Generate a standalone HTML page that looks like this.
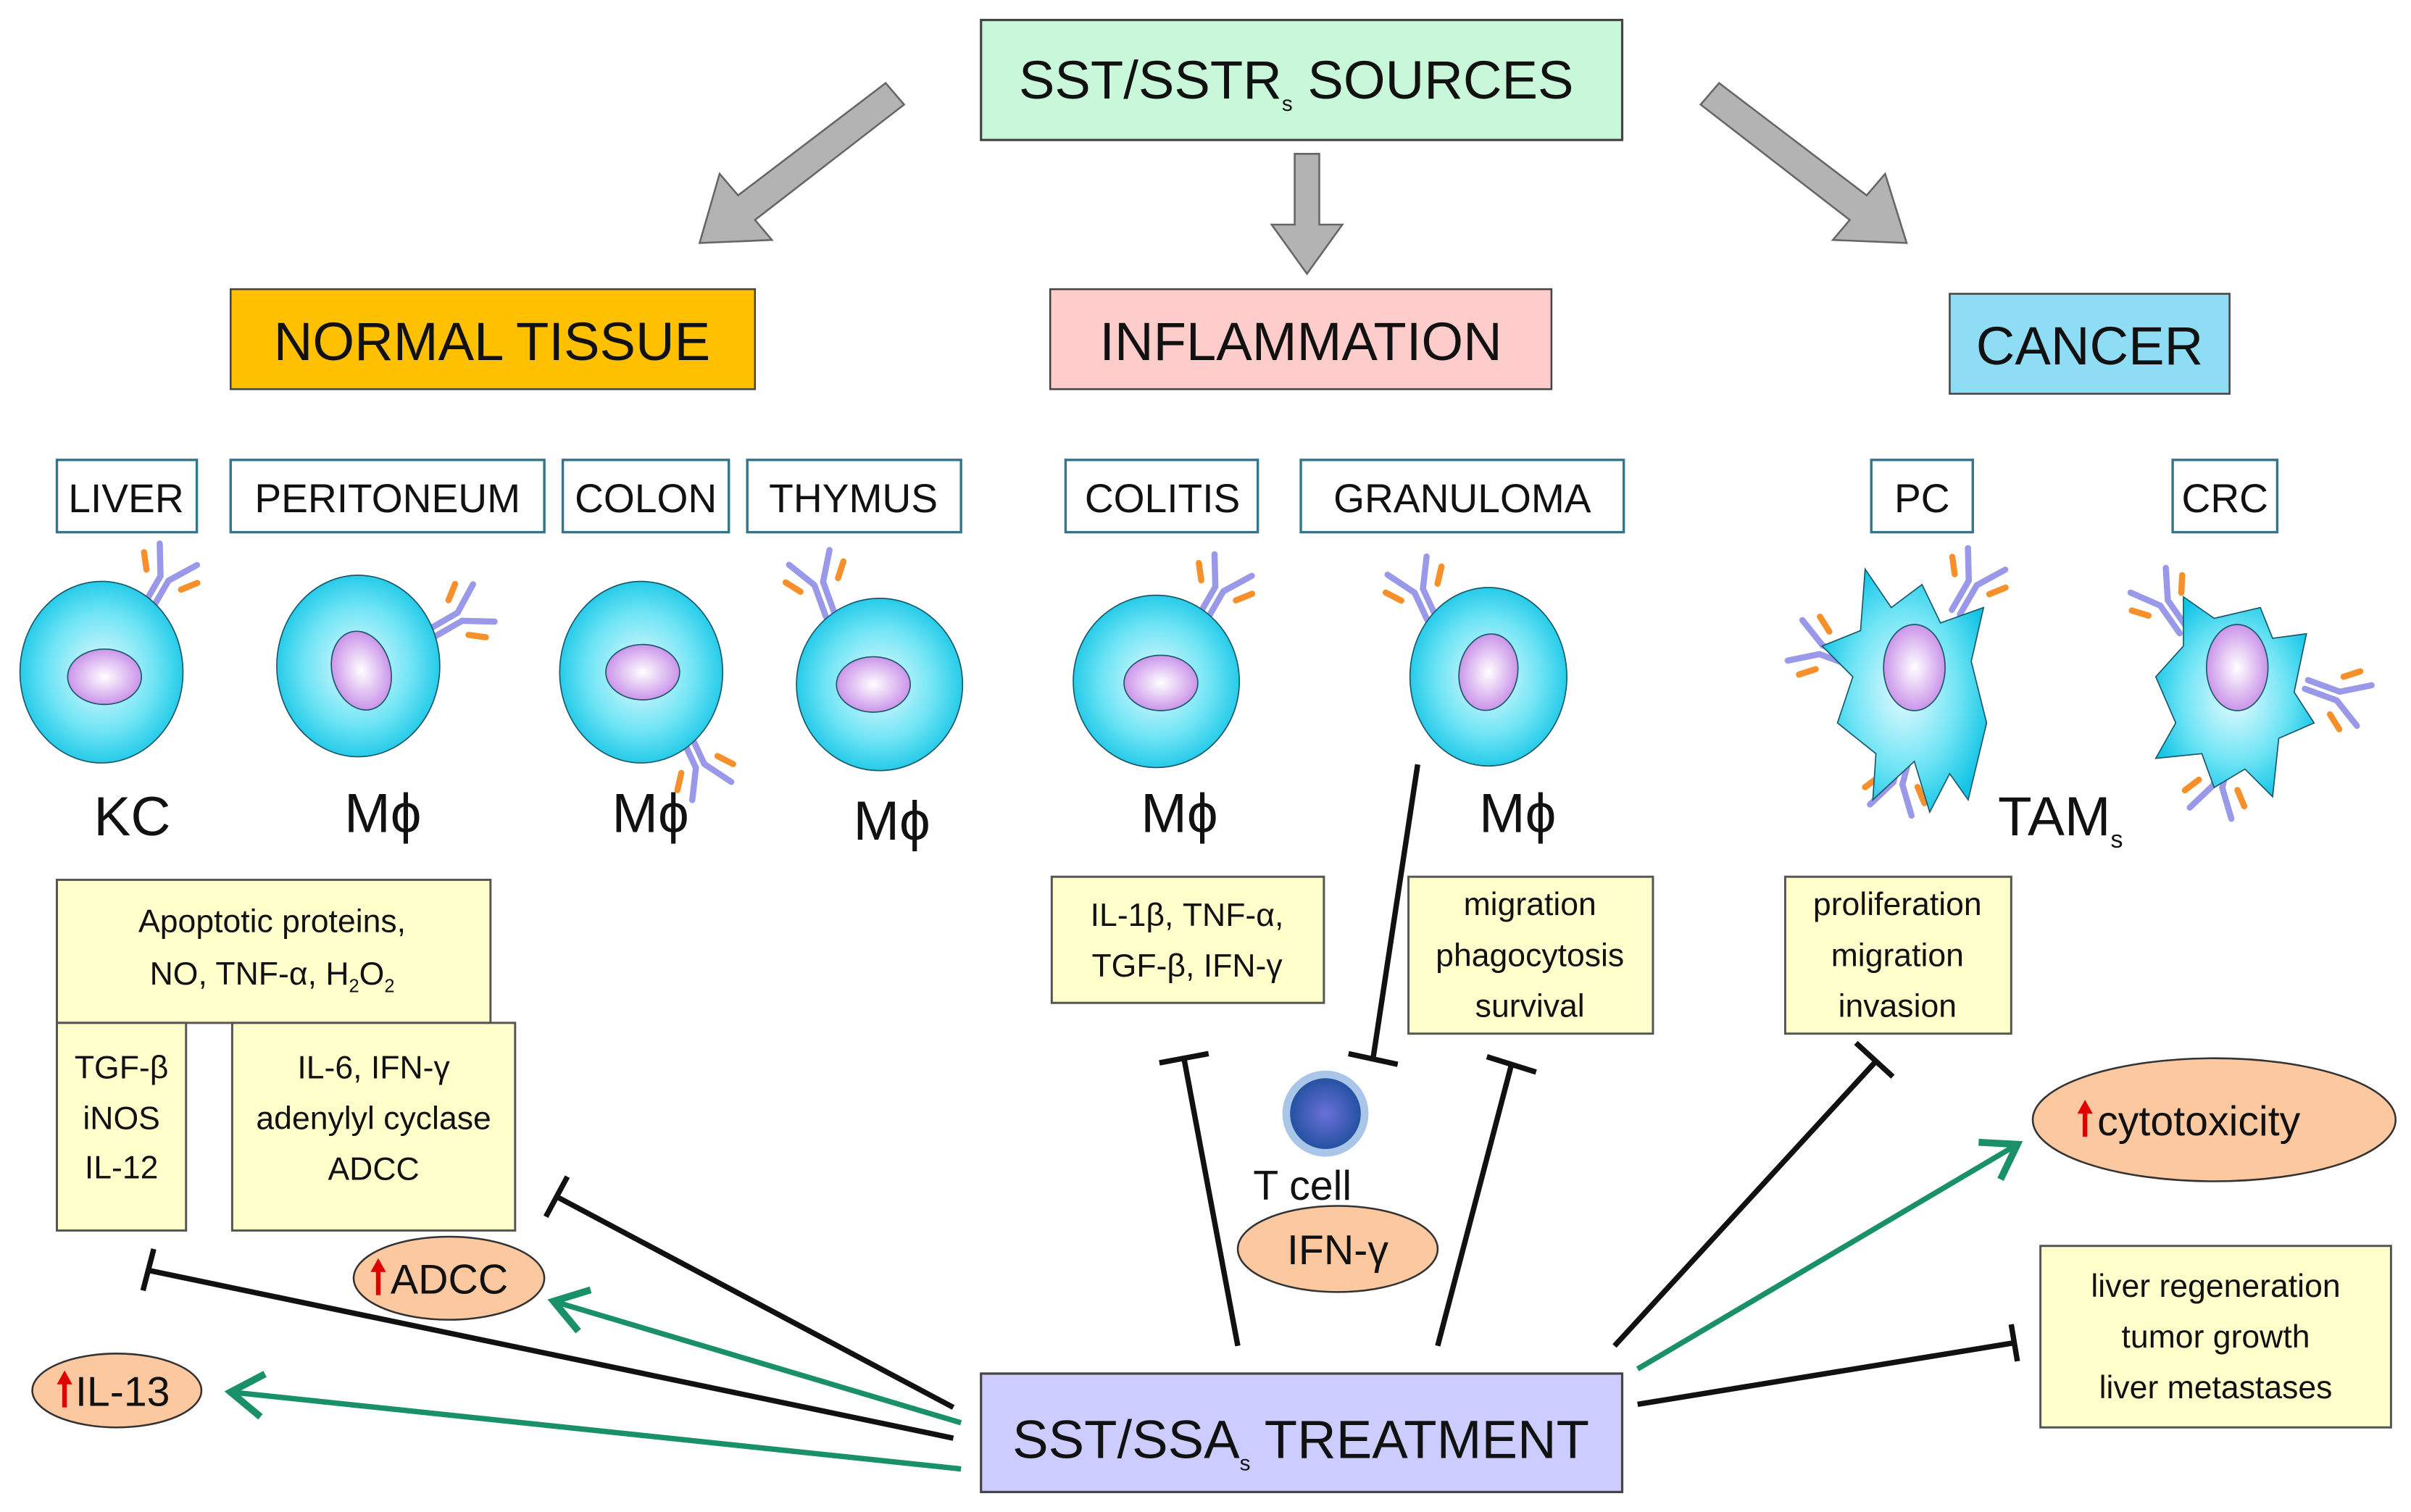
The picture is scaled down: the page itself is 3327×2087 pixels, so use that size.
<!DOCTYPE html>
<html><head><meta charset="utf-8">
<style>
html,body{margin:0;padding:0;background:#fff;}
svg{display:block;}
text{font-family:"Liberation Sans",sans-serif;fill:#111;}
</style></head><body>
<svg width="3327" height="2087" viewBox="0 0 1568 983" preserveAspectRatio="none" xmlns="http://www.w3.org/2000/svg">
<defs>
<radialGradient id="cg" cx="50%" cy="50%" r="55%">
<stop offset="0" stop-color="#e8fbff"/><stop offset="0.6" stop-color="#6ee4f5"/><stop offset="1" stop-color="#12c4e6"/></radialGradient>
<radialGradient id="ng" cx="50%" cy="50%" r="55%">
<stop offset="0" stop-color="#fff"/><stop offset="1" stop-color="#c68ae8"/></radialGradient>
<radialGradient id="tg" cx="50%" cy="50%" r="55%">
<stop offset="0" stop-color="#6b70d8"/><stop offset="1" stop-color="#1e4f9c"/></radialGradient>
<g id="rec" fill="none" stroke-linecap="round">
<path d="M-3 0 L-3 -22 L-14 -40 M3 0 L3 -22 L14 -40" stroke="#9a98e8" stroke-width="4"/>
<path d="M-20 -30 L-13 -21 M20 -30 L13 -21" stroke="#f7902a" stroke-width="4"/>
</g>
<marker id="ga" markerWidth="10" markerHeight="10" refX="7" refY="5" orient="auto" markerUnits="strokeWidth">
<path d="M1,1 L7,5 L1,9" fill="none" stroke="#1a9068" stroke-width="1.3"/></marker>
<g id="up"><polygon points="0,-12 -5,-3 -1.5,-3 -1.5,12 1.5,12 1.5,-3 5,-3" fill="#e00000"/></g>
</defs>

<rect x="638" y="13" width="417" height="78" fill="#c8f7da" stroke="#444" stroke-width="1.5"/>
<text x="843" y="64" font-size="35" text-anchor="middle">SST/SSTR<tspan font-size="14" dy="8">s</tspan><tspan dy="-8"> SOURCES</tspan></text>

<g fill="#b3b3b3" stroke="#666" stroke-width="1.2">
<polygon points="576,54 588,68 491,143 502,156 455,158 468,113 480,127"/>
<polygon points="842,100 858,100 858,146 873,146 850,178 827,146 842,146"/>
<polygon points="1118,54 1106,68 1203,143 1192,156 1240,158 1226,113 1214,127"/>
</g>

<rect x="150" y="188" width="341" height="65" fill="#ffc000" stroke="#444" stroke-width="1.2"/>
<text x="320" y="234" font-size="35" text-anchor="middle">NORMAL TISSUE</text>
<rect x="683" y="188" width="326" height="65" fill="#ffcccc" stroke="#444" stroke-width="1.2"/>
<text x="846" y="234" font-size="35" text-anchor="middle">INFLAMMATION</text>
<rect x="1268" y="191" width="182" height="65" fill="#8fdcf5" stroke="#444" stroke-width="1.2"/>
<text x="1359" y="237" font-size="35" text-anchor="middle">CANCER</text>

<g fill="#fff" stroke="#31768c" stroke-width="1.6">
<rect x="37" y="299" width="91" height="47"/>
<rect x="150" y="299" width="204" height="47"/>
<rect x="366" y="299" width="108" height="47"/>
<rect x="486" y="299" width="139" height="47"/>
<rect x="693" y="299" width="125" height="47"/>
<rect x="846" y="299" width="210" height="47"/>
<rect x="1217" y="299" width="66" height="47"/>
<rect x="1413" y="299" width="68" height="47"/>
</g>
<g font-size="26" text-anchor="middle">
<text x="82" y="333">LIVER</text>
<text x="252" y="333">PERITONEUM</text>
<text x="420" y="333">COLON</text>
<text x="555" y="333">THYMUS</text>
<text x="756" y="333">COLITIS</text>
<text x="951" y="333">GRANULOMA</text>
<text x="1250" y="333">PC</text>
<text x="1447" y="333">CRC</text>
</g>

<use href="#rec" transform="translate(96,395) rotate(30)"/>
<use href="#rec" transform="translate(280,412) rotate(60)"/>
<use href="#rec" transform="translate(446,478) rotate(155)"/>
<use href="#rec" transform="translate(540,400) rotate(-20)"/>
<use href="#rec" transform="translate(782,402) rotate(30)"/>
<use href="#rec" transform="translate(932,404) rotate(-25)"/>
<use href="#rec" transform="translate(1272,398) rotate(30)"/>
<use href="#rec" transform="translate(1205,430) rotate(-70)"/>
<use href="#rec" transform="translate(1240,488) rotate(195)"/>
<use href="#rec" transform="translate(1420,410) rotate(-35)"/>
<use href="#rec" transform="translate(1500,445) rotate(110)"/>
<use href="#rec" transform="translate(1448,490) rotate(195)"/>

<g stroke="#1a5a6a" stroke-width="0.8">
<ellipse cx="66" cy="437" rx="53" ry="59" fill="url(#cg)"/>
<ellipse cx="233" cy="433" rx="53" ry="59" fill="url(#cg)"/>
<ellipse cx="417" cy="437" rx="53" ry="59" fill="url(#cg)"/>
<ellipse cx="572" cy="445" rx="54" ry="56" fill="url(#cg)"/>
<ellipse cx="752" cy="443" rx="54" ry="56" fill="url(#cg)"/>
<ellipse cx="968" cy="440" rx="51" ry="58" fill="url(#cg)"/>
<polygon points="1213,370 1230,395 1250,380 1262,405 1290,395 1282,430 1292,470 1280,520 1268,503 1255,528 1245,495 1218,520 1220,490 1195,470 1205,440 1185,420 1210,410" fill="url(#cg)"/>
<polygon points="1420,388 1440,402 1470,395 1478,415 1500,412 1492,450 1505,470 1482,480 1478,518 1460,500 1440,512 1432,490 1402,493 1415,470 1402,440 1420,420" fill="url(#cg)"/>
<ellipse cx="68" cy="440" rx="24" ry="18" fill="url(#ng)"/>
<ellipse cx="235" cy="436" rx="19" ry="26" fill="url(#ng)" transform="rotate(-15 235 436)"/>
<ellipse cx="418" cy="437" rx="24" ry="18" fill="url(#ng)"/>
<ellipse cx="568" cy="445" rx="24" ry="18" fill="url(#ng)"/>
<ellipse cx="755" cy="444" rx="24" ry="18" fill="url(#ng)"/>
<ellipse cx="968" cy="437" rx="19" ry="25" fill="url(#ng)" transform="rotate(10 968 437)"/>
<ellipse cx="1245" cy="434" rx="20" ry="28" fill="url(#ng)"/>
<ellipse cx="1455" cy="434" rx="20" ry="28" fill="url(#ng)"/>
</g>

<g font-size="36" text-anchor="middle">
<text x="86" y="543">KC</text>
<text x="249" y="541">Mϕ</text>
<text x="423" y="541">Mϕ</text>
<text x="580" y="546">Mϕ</text>
<text x="767" y="541">Mϕ</text>
<text x="987" y="541">Mϕ</text>
<text x="1340" y="543">TAM<tspan font-size="16" dy="8">s</tspan></text>
</g>

<g fill="#ffffcc" stroke="#555" stroke-width="1.4">
<rect x="37" y="572" width="282" height="93"/>
<rect x="37" y="665" width="84" height="135"/>
<rect x="151" y="665" width="184" height="135"/>
<rect x="684" y="570" width="177" height="82"/>
<rect x="916" y="570" width="159" height="102"/>
<rect x="1161" y="570" width="147" height="102"/>
<rect x="1327" y="810" width="228" height="118"/>
</g>
<g font-size="21" text-anchor="middle">
<text x="177" y="606">Apoptotic proteins,</text>
<text x="177" y="640">NO, TNF-α, H<tspan font-size="12" dy="5">2</tspan><tspan dy="-5">O</tspan><tspan font-size="12" dy="5">2</tspan></text>
<text x="79" y="701">TGF-β</text>
<text x="79" y="734">iNOS</text>
<text x="79" y="766">IL-12</text>
<text x="243" y="701">IL-6, IFN-γ</text>
<text x="243" y="734">adenylyl cyclase</text>
<text x="243" y="767">ADCC</text>
<text x="772" y="602">IL-1β, TNF-α,</text>
<text x="772" y="635">TGF-β, IFN-γ</text>
<text x="995" y="595">migration</text>
<text x="995" y="628">phagocytosis</text>
<text x="995" y="661">survival</text>
<text x="1234" y="595">proliferation</text>
<text x="1234" y="628">migration</text>
<text x="1234" y="661">invasion</text>
<text x="1441" y="843">liver regeneration</text>
<text x="1441" y="876">tumor growth</text>
<text x="1441" y="909">liver metastases</text>
</g>

<circle cx="862" cy="724" r="28" fill="#a9c6e8"/>
<circle cx="862" cy="724" r="23" fill="url(#tg)"/>
<text x="847" y="780" font-size="27" text-anchor="middle">T cell</text>

<rect x="638" y="893" width="417" height="77" fill="#ccccff" stroke="#444" stroke-width="1.5"/>
<text x="846" y="948" font-size="35" text-anchor="middle">SST/SSA<tspan font-size="14" dy="8">s</tspan><tspan dy="-8"> TREATMENT</tspan></text>

<g stroke="#111" stroke-width="3.5" fill="none">
<line x1="805" y1="875" x2="770" y2="688"/><line x1="754" y1="691" x2="786" y2="685"/>
<line x1="935" y1="875" x2="983" y2="692"/><line x1="967" y1="687" x2="999" y2="697"/>
<line x1="1050" y1="875" x2="1220" y2="690"/><line x1="1207" y1="678" x2="1231" y2="700"/>
<line x1="1065" y1="913" x2="1310" y2="873"/><line x1="1308" y1="861" x2="1312" y2="885"/>
<line x1="620" y1="915" x2="362" y2="778"/><line x1="355" y1="791" x2="369" y2="765"/>
<line x1="620" y1="935" x2="97" y2="826"/><line x1="93" y1="839" x2="100" y2="812"/>
<line x1="922" y1="497" x2="893" y2="688"/><line x1="877" y1="685" x2="909" y2="692"/>
</g>

<g stroke="#1a9068" stroke-width="3.5" fill="none" marker-end="url(#ga)">
<line x1="1065" y1="890" x2="1312" y2="744"/>
<line x1="625" y1="925" x2="360" y2="846"/>
<line x1="625" y1="955" x2="150" y2="905"/>
</g>

<g fill="#fbc8a0" stroke="#333" stroke-width="1.2">
<ellipse cx="292" cy="831" rx="62" ry="27"/>
<ellipse cx="76" cy="904" rx="55" ry="24"/>
<ellipse cx="870" cy="812" rx="65" ry="28"/>
<ellipse cx="1440" cy="728" rx="118" ry="40"/>
</g>
<use href="#up" transform="translate(246,830)"/>
<use href="#up" transform="translate(42,903)"/>
<use href="#up" transform="translate(1356,727)"/>
<g font-size="27">
<text x="254" y="841">ADCC</text>
<text x="49" y="914">IL-13</text>
<text x="870" y="822" text-anchor="middle">IFN-γ</text>
<text x="1364" y="738">cytotoxicity</text>
</g>
</svg>
</body></html>
